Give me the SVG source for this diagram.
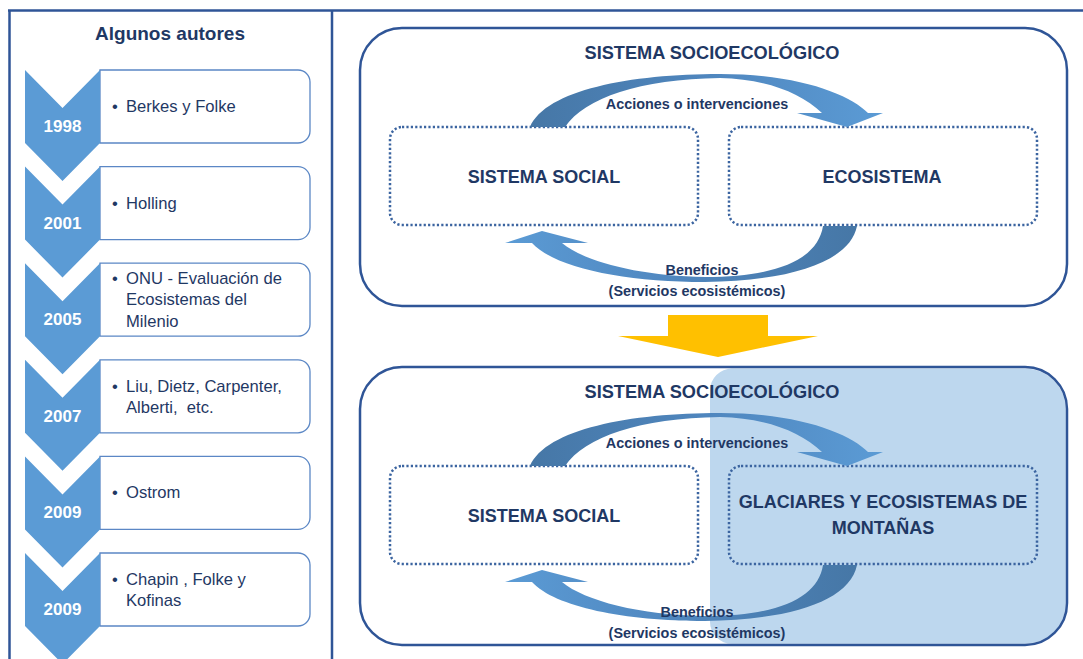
<svg xmlns="http://www.w3.org/2000/svg" width="1083" height="659" viewBox="0 0 1083 659">
<defs>
<style>
.frame{fill:none;stroke:#2F5597;stroke-width:2.5}
.chev{fill:#5B9BD5}
.ibox{fill:#fff;stroke:#5B87C5;stroke-width:1.3}
.year{font-family:"Liberation Sans",Arial,sans-serif;font-weight:bold;font-size:17px;fill:#fff;text-anchor:middle}
.item{font-family:"Liberation Sans",Arial,sans-serif;font-size:16.6px;fill:#1F3864}
.head{font-family:"Liberation Sans",Arial,sans-serif;font-weight:bold;font-size:19px;fill:#1F3864;text-anchor:middle}
.title{font-family:"Liberation Sans",Arial,sans-serif;font-weight:bold;font-size:18.2px;fill:#1F3864;text-anchor:middle}
.big{font-family:"Liberation Sans",Arial,sans-serif;font-weight:bold;font-size:18px;fill:#1F3864;text-anchor:middle}
.lab{font-family:"Liberation Sans",Arial,sans-serif;font-weight:bold;font-size:14.4px;fill:#1F3864;text-anchor:middle}
.sys{fill:none;stroke:#2F5597;stroke-width:2.5}
.dot{fill:none;stroke:#3B64A0;stroke-width:2.5;stroke-dasharray:2.2 2.2}
</style>
<linearGradient id="gTop" x1="0" y1="0" x2="1" y2="0">
<stop offset="0" stop-color="#4677A6"/><stop offset="0.5" stop-color="#4F86BE"/><stop offset="1" stop-color="#5B9BD5"/>
</linearGradient>
<linearGradient id="gBot" x1="1" y1="0" x2="0" y2="0">
<stop offset="0" stop-color="#4677A6"/><stop offset="0.5" stop-color="#4F86BE"/><stop offset="1" stop-color="#5B9BD5"/>
</linearGradient>
</defs>
<rect width="1083" height="659" fill="#fff"/>

<g id="frame">
<line class="frame" x1="8" y1="10.5" x2="1083" y2="10.5"/>
<line class="frame" x1="9.5" y1="10" x2="9.5" y2="659"/>
<line class="frame" x1="332" y1="10" x2="332" y2="659"/>
<text class="head" x="170" y="40">Algunos autores</text>
</g>

<g id="t1998">
<path class="ibox" d="M100,70 H298 A12,12 0 0 1 310,82 V131 A12,12 0 0 1 298,143 H100 Z"/>
<path class="chev" d="M25,70 L62.5,108 L100,70 V143 L62.5,181 L25,143 Z"/>
<text class="year" x="62.5" y="132">1998</text>
<text class="item" x="112" y="112">•<tspan x="126">Berkes y Folke</tspan></text>
</g>
<g id="t2001">
<path class="ibox" d="M100,166.6 H298 A12,12 0 0 1 310,178.6 V227.6 A12,12 0 0 1 298,239.6 H100 Z"/>
<path class="chev" d="M25,166.6 L62.5,204.6 L100,166.6 V239.6 L62.5,277.6 L25,239.6 Z"/>
<text class="year" x="62.5" y="228.6">2001</text>
<text class="item" x="112" y="208.6">•<tspan x="126">Holling</tspan></text>
</g>
<g id="t2005">
<path class="ibox" d="M100,263.2 H298 A12,12 0 0 1 310,275.2 V324.2 A12,12 0 0 1 298,336.2 H100 Z"/>
<path class="chev" d="M25,263.2 L62.5,301.2 L100,263.2 V336.2 L62.5,374.2 L25,336.2 Z"/>
<text class="year" x="62.5" y="325.2">2005</text>
<text class="item" x="112" y="283.5">•<tspan x="126">ONU - Evaluación de</tspan></text>
<text class="item" x="126" y="305">Ecosistemas del</text>
<text class="item" x="126" y="326.5">Milenio</text>
</g>
<g id="t2007">
<path class="ibox" d="M100,359.8 H298 A12,12 0 0 1 310,371.8 V420.8 A12,12 0 0 1 298,432.8 H100 Z"/>
<path class="chev" d="M25,359.8 L62.5,397.8 L100,359.8 V432.8 L62.5,470.8 L25,432.8 Z"/>
<text class="year" x="62.5" y="421.8">2007</text>
<text class="item" x="112" y="391.5">•<tspan x="126">Liu, Dietz, Carpenter,</tspan></text>
<text class="item" x="126" y="413" xml:space="preserve">Alberti,  etc.</text>
</g>
<g id="t2009a">
<path class="ibox" d="M100,456.4 H298 A12,12 0 0 1 310,468.4 V517.4 A12,12 0 0 1 298,529.4 H100 Z"/>
<path class="chev" d="M25,456.4 L62.5,494.4 L100,456.4 V529.4 L62.5,567.4 L25,529.4 Z"/>
<text class="year" x="62.5" y="518.4">2009</text>
<text class="item" x="112" y="498">•<tspan x="126">Ostrom</tspan></text>
</g>
<g id="t2009b">
<path class="ibox" d="M100,553 H298 A12,12 0 0 1 310,565 V614 A12,12 0 0 1 298,626 H100 Z"/>
<path class="chev" d="M25,553 L62.5,591 L100,553 V626 L62.5,664 L25,626 Z"/>
<text class="year" x="62.5" y="615">2009</text>
<text class="item" x="112" y="584.5">•<tspan x="126">Chapin , Folke y</tspan></text>
<text class="item" x="126" y="606">Kofinas</text>
</g>

<g id="ses1">
<rect class="sys" x="360" y="28" width="707" height="278" rx="42"/>
<text class="title" x="712" y="59">SISTEMA SOCIOECOLÓGICO</text>
</g>
<g id="social1">
<rect class="dot" x="390" y="127" width="308" height="98" rx="12"/>
<text class="big" x="544" y="183">SISTEMA SOCIAL</text>
</g>
<g id="eco1">
<rect class="dot" x="729" y="127" width="308" height="98" rx="12"/>
<text class="big" x="882" y="183">ECOSISTEMA</text>
</g>

<g id="transition">
<path fill="#FFC000" d="M668,315 H768 V336 H818 L718,357 L618,336 H668 Z"/>
</g>

<g id="ses2">
<path fill="#BDD7EE" d="M732,368.5 H1025 A40.5,40.5 0 0 1 1065.8,409 V603 A40.5,40.5 0 0 1 1025,643.8 H732 A22,22 0 0 1 710,621.8 V390.5 A22,22 0 0 1 732,368.5 Z"/>
<rect class="sys" x="360" y="367" width="707" height="278" rx="42"/>
<text class="title" x="712" y="398">SISTEMA SOCIOECOLÓGICO</text>
</g>
<g id="social2">
<rect class="dot" x="390" y="466" width="308" height="98" rx="12"/>
<text class="big" x="544" y="522">SISTEMA SOCIAL</text>
</g>
<g id="glaciares">
<rect class="dot" x="729" y="466" width="308" height="98" rx="12"/>
<text class="big" x="883" y="508">GLACIARES Y ECOSISTEMAS DE</text>
<text class="big" x="883" y="534">MONTAÑAS</text>
</g>

<g id="connectors">
<path fill="url(#gTop)" d="M530,127 C546,90 630,74 720,74 C800,74 850,95 868,113 L883,113 L847,127 L797,113 L822,113 C800,92 765,79 720,78 C640,79 585,98 565,127 Z"/>
<path fill="url(#gBot)" d="M857,226 C850,262 790,281 705,282 C625,282 555,268 532,243 L505,243 L542,231 L588,243 L562,243 C585,262 640,276 705,277 C780,277 818,258 823,226 Z"/>
<path fill="url(#gTop)" d="M530,466 C546,429 630,413 720,413 C800,413 850,434 868,452 L883,452 L847,466 L797,452 L822,452 C800,431 765,418 720,417 C640,418 585,437 565,466 Z"/>
<path fill="url(#gBot)" d="M857,565 C850,601 790,620 705,621 C625,621 555,607 532,582 L505,582 L542,570 L588,582 L562,582 C585,601 640,615 705,616 C780,616 818,597 823,565 Z"/>
<text class="lab" x="697" y="109">Acciones o intervenciones</text>
<text class="lab" x="702" y="275">Beneficios</text>
<text class="lab" x="697" y="296">(Servicios ecosistémicos)</text>
<text class="lab" x="697" y="448">Acciones o intervenciones</text>
<text class="lab" x="697" y="617">Beneficios</text>
<text class="lab" x="697" y="638">(Servicios ecosistémicos)</text>
</g>
</svg>
